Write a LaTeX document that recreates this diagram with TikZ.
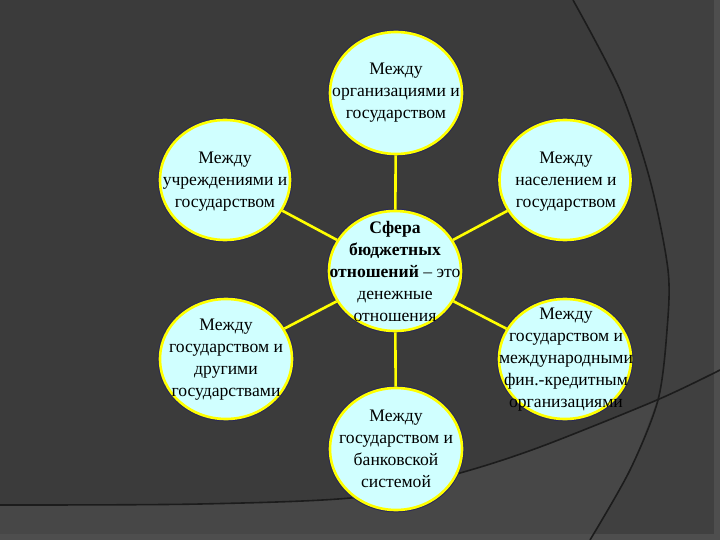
\documentclass[tikz,border=0pt]{standalone}
\usepackage{fontspec}
\setmainfont{Liberation Serif}
\usetikzlibrary{shapes.geometric}
\definecolor{bgbase}{HTML}{3B3B3B}
\definecolor{bglow}{HTML}{474747}
\definecolor{bgright}{HTML}{404040}
\definecolor{bgedge}{HTML}{4E4E4E}
\definecolor{arcline}{HTML}{1C1C1C}
\definecolor{cellfill}{RGB}{208,255,255}
\definecolor{cellline}{RGB}{255,255,0}
\definecolor{cellshadow}{RGB}{40,40,90}
\tikzset{
  ell/.style={ellipse, inner sep=0pt, fill=cellfill, draw=cellline, line width=2.6pt,
    preaction={draw=cellshadow, line width=4.6pt}},
  txt/.style={align=center, text=black, font=\fontsize{17.6}{22}\selectfont, inner sep=0pt},
  conn/.style={draw=cellline, line width=2.6pt}
}
\begin{document}
\begin{tikzpicture}[x=1pt,y=-1pt]
\useasboundingbox (0,0) rectangle (720,540);
% background
\fill[bgbase] (0,0) rectangle (720,540);
\fill[bgright] plot[smooth] coordinates {(573,0) (620,90) (650,180) (668,270) (667,330) (658,400) (630,470) (590,540)} -- (720,540) -- (720,0) -- cycle;
\fill[bglow] plot[smooth] coordinates {(0,505) (200,504) (360,497) (460,473) (540,447) (657,400) (720,370)} -- (720,540) -- (0,540) -- cycle;
\fill[bgright] plot[smooth] coordinates {(657,400) (630,470) (590,540)} -- (720,540) -- (720,370) -- cycle;
\fill[bgedge] (714,0) rectangle (720,540);
\fill[bgedge] (0,534) rectangle (720,540);
\draw[arcline, line width=1.6pt] plot[smooth] coordinates {(573,0) (620,90) (650,180) (668,270) (667,330) (658,400) (630,470) (590,540)};
\draw[arcline, line width=1.6pt] plot[smooth] coordinates {(0,505) (200,504) (360,497) (460,473) (540,447) (657,400) (720,370)};
% nodes
\node[ell, minimum width=132pt, minimum height=122pt] (t) at (396,93) {};
\node[ell, minimum width=130pt, minimum height=120pt] (lu) at (225,180) {};
\node[ell, minimum width=131pt, minimum height=120pt] (ru) at (565,180) {};
\node[ell, minimum width=132pt, minimum height=120pt] (c) at (395,271) {};
\node[ell, minimum width=132pt, minimum height=120pt] (ll) at (226,359) {};
\node[ell, minimum width=132pt, minimum height=120pt] (rl) at (565,359) {};
\node[ell, minimum width=132pt, minimum height=122pt] (b) at (396,449) {};
% connectors
\draw[conn] (c) -- (t);
\draw[conn] (c) -- (lu);
\draw[conn] (c) -- (ru);
\draw[conn] (c) -- (ll);
\draw[conn] (c) -- (rl);
\draw[conn] (c) -- (b);
% texts
\node[txt] (tt) at (396,93) {Между\\организациями и\\государством};
\node[txt] (tlu) at (225,182) {Между\\учреждениями и\\государством};
\node[txt] (tru) at (566,182) {Между\\населением и\\государством};
\node[txt] (tc) at (395,271) {\textbf{Сфера}\\\textbf{бюджетных}\\\textbf{отношений} – это\\денежные\\отношения};
\node[txt] (tll) at (226,360) {Между\\государством и\\другими\\государствами};
\node[txt] (trl) at (566,360) {Между\\государством и\\международными\\фин.-кредитным\\организациями};
\node[txt] (tb) at (396,449) {Между\\государством и\\банковской\\системой};
\end{tikzpicture}
\end{document}
